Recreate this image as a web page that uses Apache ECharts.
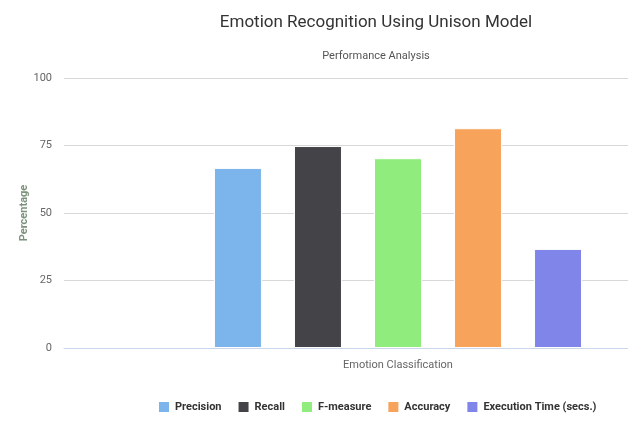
<!DOCTYPE html>
<html>
<head>
<meta charset="utf-8">
<script src="https://cdn.jsdelivr.net/npm/echarts@6/dist/echarts.min.js"></script>
<style>html,body{margin:0;padding:0;background:#fff}#c{width:628px;height:428px}</style>
</head>
<body>
<div id="c"></div>
<script>
var categories = ['Emotion Classification'];
var seriesNames = ['Precision', 'Recall', 'F-measure', 'Accuracy', 'Execution Time (secs.)'];
var seriesValues = [[66.7], [74.8], [70.3], [81.4], [36.7]];
var seriesColors = ['#7cb5ec', '#434348', '#90ed7d', '#f7a35c', '#8085e9'];
var yTicks = [0, 25, 50, 75, 100];

var FONT = 'Roboto, sans-serif';
var chart = echarts.init(document.getElementById('c'));
var yMin = yTicks[0], yMax = yTicks[yTicks.length - 1], yInt = yTicks[1] - yTicks[0];

chart.setOption({
  animation: false,
  textStyle: { fontFamily: FONT },
  title: [
    { text: 'Emotion Recognition Using Unison Model', left: 371, top: 9, textAlign: 'center',
      textStyle: { fontFamily: FONT, fontSize: 17, fontWeight: 'normal', color: '#333' } },
    { text: 'Performance Analysis', left: 371, top: 46, textAlign: 'center',
      textStyle: { fontFamily: FONT, fontSize: 11, fontWeight: 'normal', color: '#555' } }
  ],
  legend: {
    data: seriesNames, bottom: 9, left: 152, width: 470, itemWidth: 12, itemHeight: 12, itemGap: 15,
    icon: 'rect',
    textStyle: { fontFamily: FONT, fontSize: 11, fontWeight: 'bold', color: '#333' }
  },
  grid: [
    { left: 64, right: 0, top: 78, bottom: 80 },
    { left: 168, right: 0, top: 78, bottom: 80 }
  ],
  xAxis: [
    { type: 'category', gridIndex: 0, data: [''], axisLine: { lineStyle: { color: '#ccd6eb' } },
      axisTick: { show: false }, axisLabel: { show: false } },
    { type: 'category', gridIndex: 1, data: categories, axisLine: { show: false }, axisTick: { show: false },
      axisLabel: { fontFamily: FONT, fontSize: 11, color: '#666', margin: 12 } }
  ],
  yAxis: [
    { type: 'value', gridIndex: 0, min: yMin, max: yMax, interval: yInt,
      name: 'Percentage', nameLocation: 'middle', nameGap: 34, nameRotate: 90, nameMoveOverlap: false,
      nameTextStyle: { fontFamily: FONT, fontSize: 11, fontWeight: 'bold', color: '#7d937d' },
      axisLine: { show: false }, axisTick: { show: false },
      axisLabel: { fontFamily: FONT, fontSize: 11, color: '#666', margin: 12 },
      splitLine: { lineStyle: { color: '#d8d8d8' } } },
    { type: 'value', gridIndex: 1, min: yMin, max: yMax, interval: yInt, show: false,
      splitLine: { show: false } }
  ],
  series: seriesNames.map(function (n, i) {
    return {
      name: n, type: 'bar', xAxisIndex: 1, yAxisIndex: 1, data: seriesValues[i],
      barWidth: 48, barGap: '66.7%',
      itemStyle: { color: seriesColors[i], borderColor: '#fff', borderWidth: 1 }
    };
  })
});
</script>
</body>
</html>
